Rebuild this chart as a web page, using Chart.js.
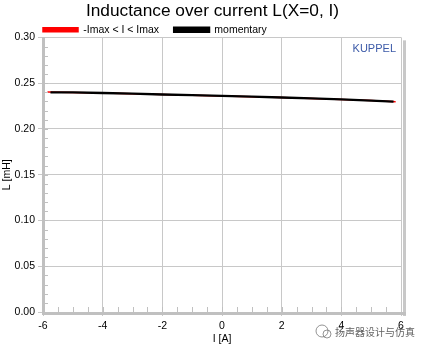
<!DOCTYPE html>
<html>
<head>
<meta charset="utf-8">
<script src="https://cdn.jsdelivr.net/npm/chart.js@4.4.1/dist/chart.umd.min.js"></script>
<style>
    html, body { margin: 0; padding: 0; background: #ffffff; }
    #wrap { position: relative; width: 430px; height: 351px; }
</style>
</head>
<body>
<div id="wrap"><canvas id="myChart" width="430" height="351"></canvas></div>
<script>
(() => {
    // current I [A] and inductance L [mH]
    const rangeCurrent = [-5.85, -5, -4, -3, -2, -1, 0, 1, 2, 3, 4, 5, 5.82];
    const rangeInductance = [0.2403, 0.2398, 0.2392, 0.2385, 0.2376, 0.2368, 0.2360, 0.2352, 0.2343, 0.2333, 0.2322, 0.2310, 0.2296];

    const momentCurrent = [-5.75, -5, -4, -3, -2, -1, 0, 1, 2, 3, 4, 5, 5.75];
    const momentInductance = [0.2400, 0.2398, 0.2392, 0.2385, 0.2376, 0.2368, 0.2360, 0.2352, 0.2343, 0.2333, 0.2322, 0.2310, 0.2297];

    const xTicks = [-6, -4, -2, 0, 2, 4, 6];
    const yTicks = [0.0, 0.05, 0.1, 0.15, 0.2, 0.25, 0.3];

    const font = "'Liberation Sans', Arial, sans-serif";
    const gridColor = "#c8c8c8";
    const axisColor = "#c0c0c0";

    const toPoints = (xs, ys) => xs.map((x, i) => ({ x: x, y: ys[i] }));

    // minor ticks, thick axes, frame shadow and the small texts
    const decorations = {
        id: "decorations",
        afterLayout(chart) {
            if (chart.legend) {
                chart.legend.left = chart.chartArea.left - 15;
                chart.legend.top = 9.5;
            }
            if (chart.titleBlock) {
                chart.titleBlock.left += 12;
                chart.titleBlock.right += 12;
            }
        },
        afterDraw(chart) {
            const { ctx, chartArea: a, scales } = chart;
            ctx.save();

            // shadow right of the frame
            ctx.fillStyle = gridColor;
            ctx.fillRect(a.right + 2, a.top + 3, 3, a.bottom - a.top + 1);

            // minor ticks inside the plot
            ctx.strokeStyle = axisColor;
            ctx.lineWidth = 1;
            ctx.beginPath();
            for (let v = 1; v < 30; v++) {
                const y = Math.round(scales.y.getPixelForValue(v / 100)) + 0.5;
                ctx.moveTo(a.left, y);
                ctx.lineTo(a.left + 5, y);
            }
            for (let v = -11; v <= 11; v++) {
                const x = Math.round(scales.x.getPixelForValue(v / 2)) + 0.5;
                ctx.moveTo(x, a.bottom);
                ctx.lineTo(x, a.bottom - 5);
            }
            ctx.stroke();

            // thick axis lines
            ctx.fillStyle = axisColor;
            ctx.fillRect(a.left - 1, a.top, 3, a.bottom - a.top + 2);
            ctx.fillRect(a.left - 1, a.bottom, a.right - a.left + 6, 3);

            // maker label
            ctx.fillStyle = "#3c5aa8";
            ctx.font = "11px " + font;
            ctx.textAlign = "right";
            ctx.textBaseline = "alphabetic";
            ctx.fillText("KUPPEL", a.right - 5, a.top + 15);

            // watermark
            ctx.strokeStyle = "rgba(120,120,120,0.8)";
            ctx.lineWidth = 1;
            ctx.beginPath();
            ctx.arc(322, 331, 6, 0, Math.PI * 2);
            ctx.stroke();
            ctx.beginPath();
            ctx.arc(327, 334, 4, 0, Math.PI * 2);
            ctx.stroke();
            ctx.fillStyle = "rgba(70,70,70,0.85)";
            ctx.font = "10px 'Noto Sans CJK SC', sans-serif";
            ctx.textAlign = "left";
            ctx.textBaseline = "middle";
            ctx.fillText("扬声器设计与仿真", 335, 332);
            ctx.restore();
        },
    };

    const initChart = () => {
        const ctx = document.getElementById("myChart").getContext("2d");

        new Chart(ctx, {
            type: "line",
            data: {
                datasets: [
                    {
                        label: "-Imax < I < Imax",
                        data: toPoints(rangeCurrent, rangeInductance),
                        borderColor: "#ff0000",
                        backgroundColor: "#ff0000",
                        borderWidth: 1.5,
                        pointRadius: 0,
                        order: 1,
                    },
                    {
                        label: "momentary",
                        data: toPoints(momentCurrent, momentInductance),
                        borderColor: "#000000",
                        backgroundColor: "#000000",
                        borderWidth: 2.3,
                        pointRadius: 0,
                        order: 0,
                    },
                ],
            },
            options: {
                responsive: false,
                animation: false,
                layout: { padding: { top: 0, right: 29, bottom: 0, left: 0 } },
                plugins: {
                    title: {
                        display: true,
                        text: "Inductance over current L(X=0, I)",
                        color: "#000000",
                        font: { family: font, size: 17.3, weight: "normal" },
                        padding: { top: 1, bottom: 0 },
                    },
                    legend: {
                        position: "top",
                        align: "start",
                        fullSize: false,
                        maxHeight: 15.6,
                        labels: {
                            boxWidth: 35,
                            boxHeight: 4,
                            padding: 15,
                            color: "#000000",
                            font: { family: font, size: 10.5 },
                            sort: (a, b) => a.datasetIndex - b.datasetIndex,
                        },
                    },
                    tooltip: { enabled: false },
                },
                scales: {
                    x: {
                        type: "linear",
                        min: -6,
                        max: 6,
                        afterFit: (scale) => { scale.height = 39; },
                        afterBuildTicks: (scale) => {
                            scale.ticks = xTicks.map((v) => ({ value: v }));
                        },
                        ticks: {
                            color: "#000000",
                            font: { family: font, size: 10.5 },
                            padding: 4,
                            maxRotation: 0,
                            callback: (v) => String(v),
                        },
                        grid: { color: gridColor, tickLength: 4, tickColor: gridColor },
                        border: { display: false },
                        title: {
                            display: true,
                            text: "I [A]",
                            color: "#000000",
                            font: { family: font, size: 10.5 },
                            padding: { top: 0, bottom: 6 },
                        },
                    },
                    y: {
                        min: 0,
                        max: 0.3,
                        afterFit: (scale) => { scale.width = 43; },
                        afterBuildTicks: (scale) => {
                            scale.ticks = yTicks.map((v) => ({ value: v }));
                        },
                        ticks: {
                            color: "#000000",
                            font: { family: font, size: 10.5 },
                            padding: 3,
                            callback: (v) => v.toFixed(2),
                        },
                        grid: { color: gridColor, tickLength: 5, tickColor: gridColor },
                        border: { display: false },
                        title: {
                            display: true,
                            text: "L [mH]",
                            color: "#000000",
                            font: { family: font, size: 10.5 },
                            padding: { top: 1, bottom: 0 },
                        },
                    },
                },
            },
            plugins: [decorations],
        });
    };

    document.addEventListener("DOMContentLoaded", initChart);
})();
</script>
</body>
</html>
